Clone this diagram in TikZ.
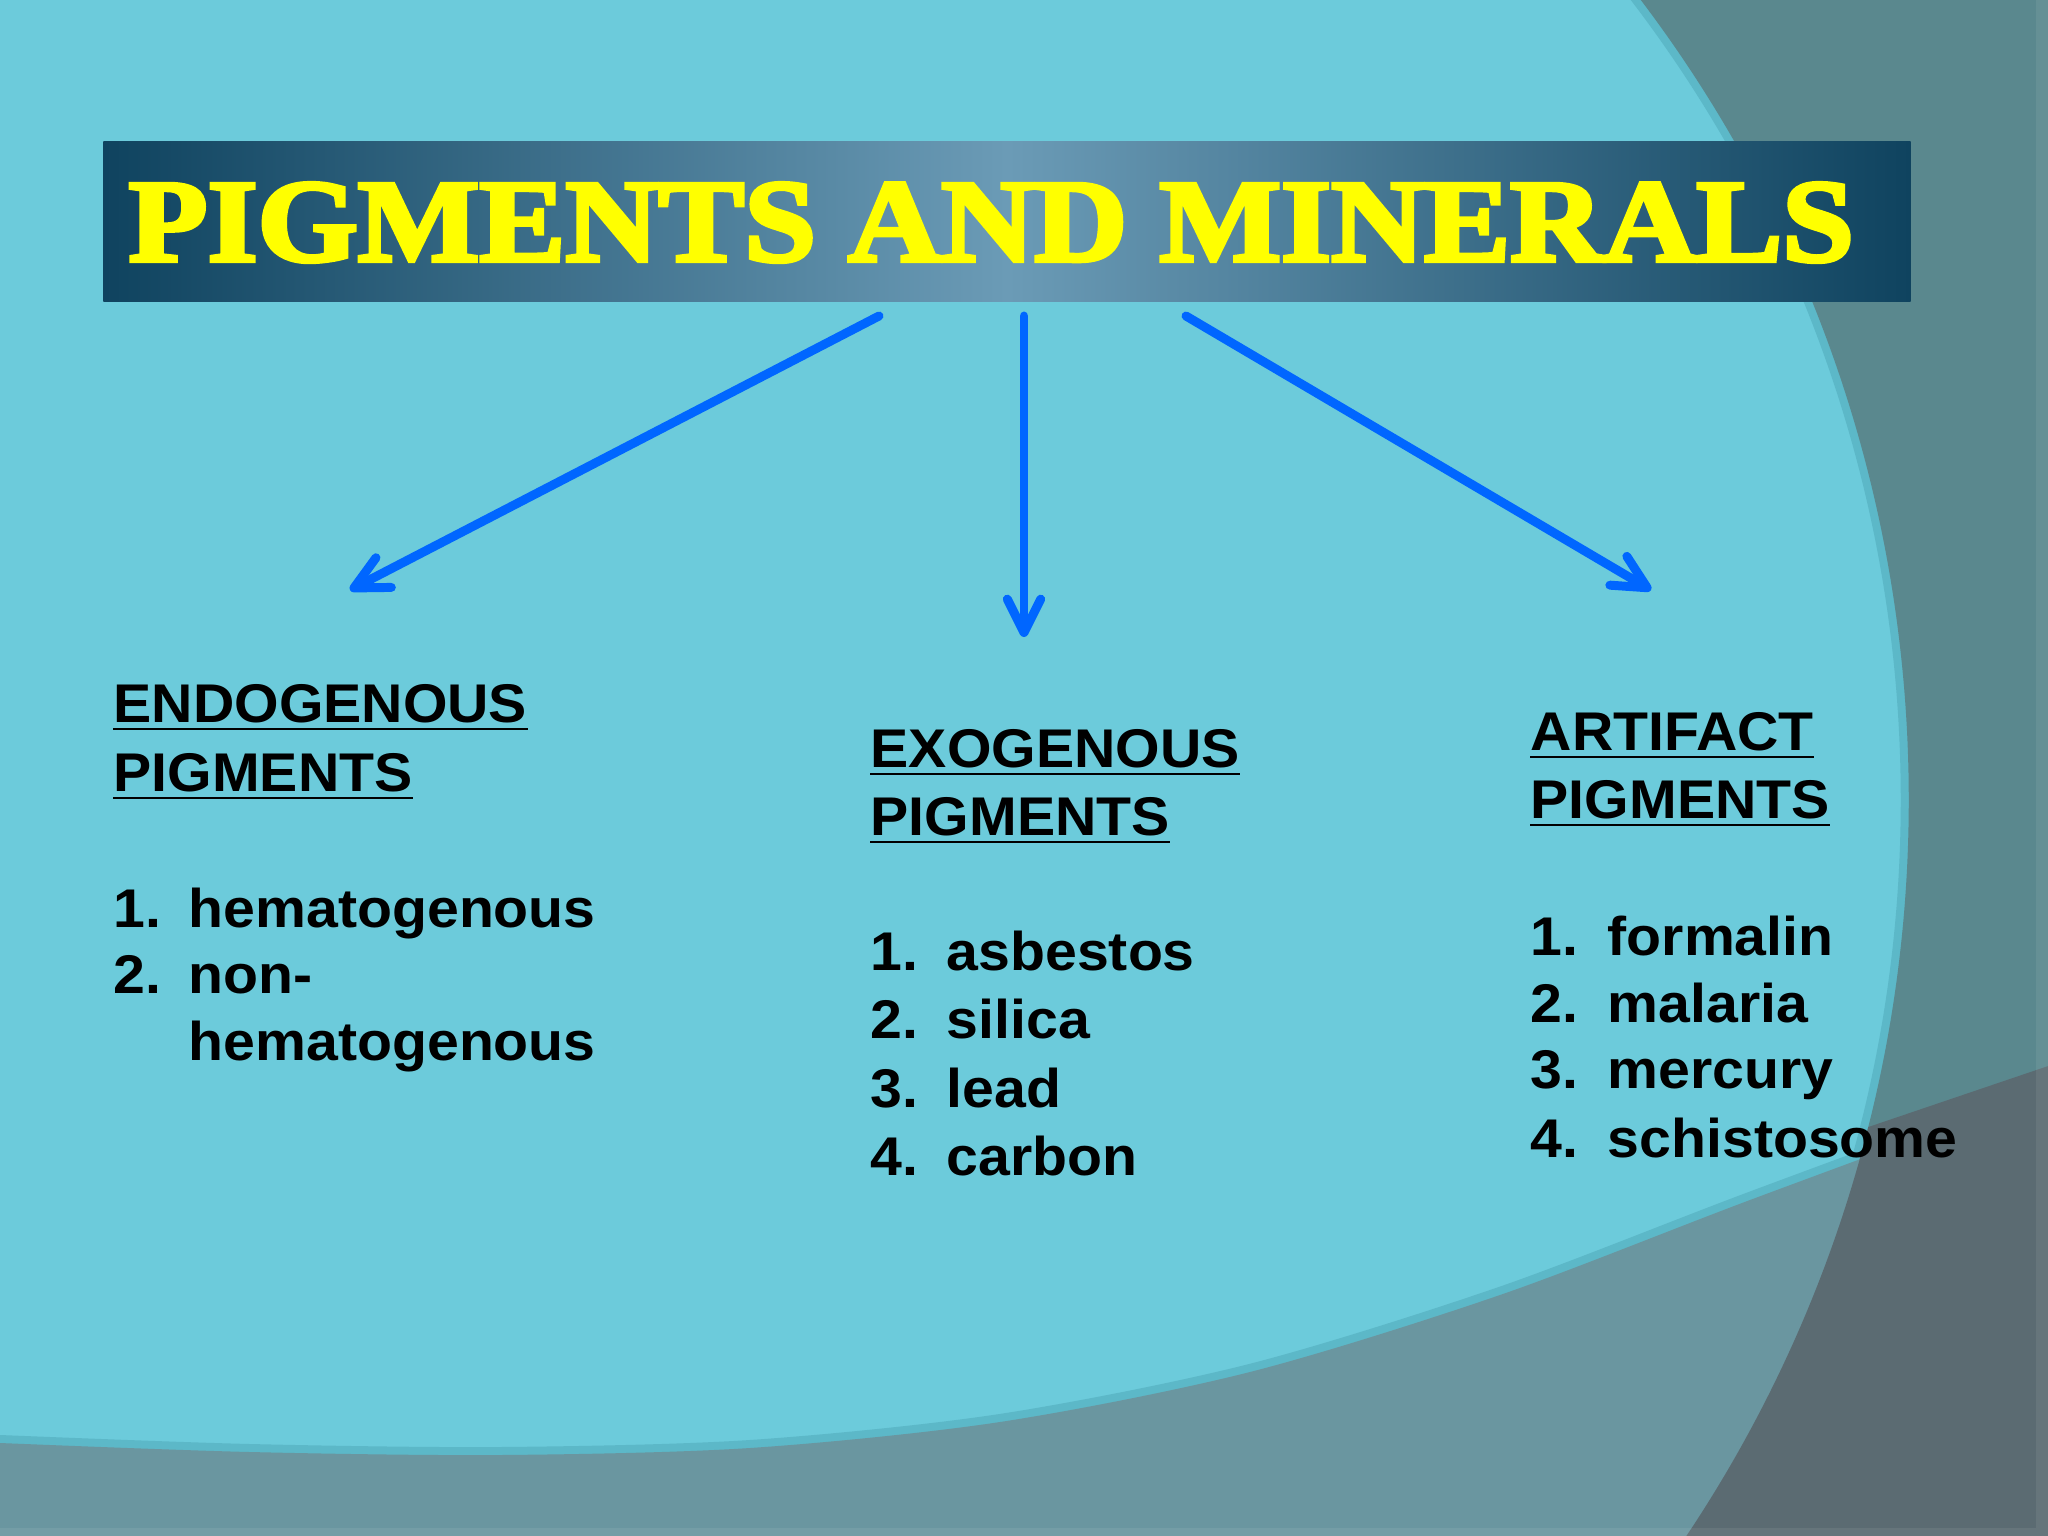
\documentclass[tikz,border=0pt]{standalone}
\usepackage{fontspec}
\usepackage{graphicx}
\usetikzlibrary{arrows.meta}
\newfontfamily\bodyfont[FakeStretch=1.05]{Liberation Sans}
\newfontfamily\titlefont[FakeBold=3.5]{Liberation Serif Bold}
\definecolor{bgcyan}{HTML}{6CCBDB}
\definecolor{bgedge}{HTML}{5CB8C8}
\definecolor{bgteal}{HTML}{5A888E}
\definecolor{bgband}{HTML}{6A96A0}
\definecolor{bgdark}{HTML}{5B6B72}
\definecolor{bannerdark}{HTML}{0F435F}
\definecolor{bannerlight}{HTML}{6B9BB6}
\definecolor{arrowblue}{HTML}{0066FF}
\definecolor{titleyellow}{HTML}{FFFF00}
\begin{document}
\begin{tikzpicture}[x=0.01cm,y=-0.01cm,
  body/.style={font=\bodyfont\bfseries\fontsize{15.5pt}{19pt}\selectfont, anchor=base west, inner sep=0pt, text=black},
  head/.style={body},
  uline/.style={line width=0.75pt, black},
  conn/.style={arrowblue, line width=2.55pt, line cap=round, -{Straight Barb[length=9.5pt,width=9.5pt,round]}},
  banner/.style={rectangle, inner sep=0pt, minimum width=18.06cm, minimum height=1.59cm, left color=bannerdark, right color=bannerdark, middle color=bannerlight},
]
\useasboundingbox (0,0) rectangle (2048,1536);
\begin{scope}
\clip (0,0) rectangle (2048,1536);
\fill[bgcyan] (0,0) rectangle (2048,1536);
% soft edges on the light side
\draw[bgedge, line width=0.16cm] (608,800) ellipse [x radius=13cm, y radius=13.15cm];
\draw[bgedge, line width=0.16cm] plot[smooth] coordinates {(-50,1440) (0,1443) (250,1452) (500,1455) (750,1448) (1000,1422) (1250,1372) (1500,1295) (1750,1200) (2048,1090)};
% right region (outside the big ellipse)
\fill[bgteal, even odd rule] (-10,-10) rectangle (2060,1550) (608,800) ellipse [x radius=13cm, y radius=13.15cm];
% bottom band
\fill[bgband] plot[smooth] coordinates {(-50,1440) (0,1443) (250,1452) (500,1455) (750,1448) (1000,1422) (1250,1372) (1500,1295) (1750,1200) (2048,1090)} -- (2060,1550) -- (-50,1550) -- cycle;
% darker overlap at bottom right
\begin{scope}[even odd rule]
\clip (-10,-10) rectangle (2060,1550) (608,800) ellipse [x radius=13cm, y radius=13.15cm];
\fill[bgdark] (1600,1218) -- (2060,1062) -- (2060,1550) -- (1600,1550) -- cycle;
\end{scope}
% faint strips at the bottom and right edges
\fill[white, opacity=0.07] (0,1528) rectangle (2048,1536);
\fill[white, opacity=0.07] (2036,0) rectangle (2048,1528);
\end{scope}

% title banner
\node[banner] (banner) at (1007,221.5) {};
\node[anchor=base west, inner sep=0pt, text=titleyellow] (title) at (128,261) {\resizebox{17.24cm}{0.78cm}{\titlefont PIGMENTS AND MINERALS}};

% arrows
\coordinate (s1) at (879,316);  \coordinate (e1) at (350,590);
\coordinate (s2) at (1024,316); \coordinate (e2) at (1024,637);
\coordinate (s3) at (1186,316); \coordinate (e3) at (1651,590);
\draw[conn] (s1) -- (e1);
\draw[conn] (s2) -- (e2);
\draw[conn] (s3) -- (e3);

% left column
\node[head] (endoA) at (113,722) {ENDOGENOUS};
\node[head] (endoB) at (113,791) {PIGMENTS};
\node[body] (endo1n) at (113,927) {1.};
\node[body] (endo1) at (188,927) {hematogenous};
\node[body] (endo2n) at (113,993) {2.};
\node[body] (endo2) at (188,993) {non-};
\node[body] (endo2b) at (188,1060) {hematogenous};

% middle column
\node[head] (exoA) at (870,767) {EXOGENOUS};
\node[head] (exoB) at (870,835) {PIGMENTS};
\node[body] (exo1n) at (870,970) {1.};
\node[body] (exo1) at (946,970) {asbestos};
\node[body] (exo2n) at (870,1038) {2.};
\node[body] (exo2) at (946,1038) {silica};
\node[body] (exo3n) at (870,1107) {3.};
\node[body] (exo3) at (946,1107) {lead};
\node[body] (exo4n) at (870,1175) {4.};
\node[body] (exo4) at (946,1175) {carbon};

% right column
\node[head] (artA) at (1530,750) {ARTIFACT};
\node[head] (artB) at (1530,818) {PIGMENTS};
\node[body] (art1n) at (1530,955) {1.};
\node[body] (art1) at (1607,955) {formalin};
\node[body] (art2n) at (1530,1022) {2.};
\node[body] (art2) at (1607,1022) {malaria};
\node[body] (art3n) at (1530,1088) {3.};
\node[body] (art3) at (1607,1088) {mercury};
\node[body] (art4n) at (1530,1157) {4.};
\node[body] (art4) at (1607,1157) {schistosome};

% underlines
\foreach \n in {endoA,endoB,exoA,exoB,artA,artB}
  \draw[uline] ([yshift=-0.07cm]\n.base west) -- ([yshift=-0.07cm]\n.base east);
\end{tikzpicture}
\end{document}
